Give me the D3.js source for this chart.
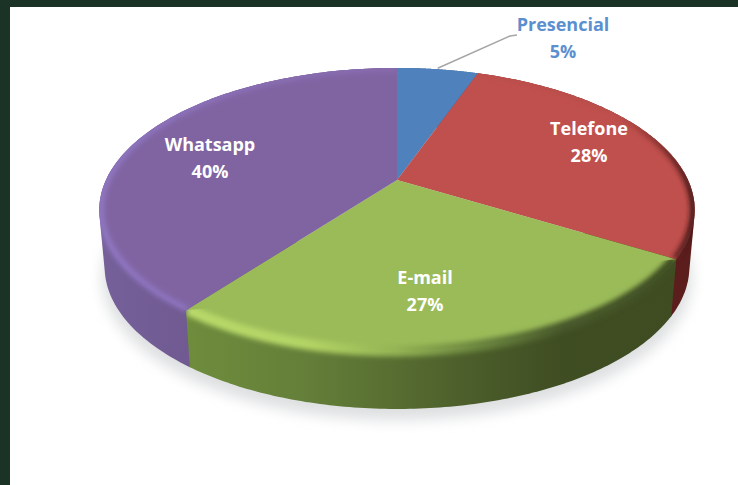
<!DOCTYPE html>
<html><head><meta charset="utf-8">
<script src="https://cdn.jsdelivr.net/npm/d3@7"></script>
<style>html,body{margin:0;padding:0;background:#fff;overflow:hidden}svg{display:block}text{font-family:"Open Sans",sans-serif;font-weight:700;font-size:18px;text-anchor:middle}</style>
</head><body><svg id="c" width="738" height="485"></svg>
<script>
const categories = ["Presencial","Telefone","E-mail","Whatsapp"];
const percents = [5.4,28.3,26.6,39.7];
const topColors = ["#4F81BD","#C0504D","#9BBB59","#8064A2"];
const labelColors = ["#5B8FCF","#fff","#fff","#fff"];
const labelAnchors = [[563,38],[589,142],[425,291],[210,158]];
const sideStops = [
  [[0,"#3b618f"],[1,"#3b618f"]],
  [[0,"#5b1e1d"],[1,"#5b1e1d"]],
  [[0,"#76963f"],[.35,"#647f39"],[.62,"#4c5e2b"],[.78,"#3f4d22"],[1,"#3f4c22"]],
  [[0,"#75609a"],[.3,"#6c5488"],[1,"#6c5488"]]
];
const rimStops = [
  [[0,"#4F81BD"],[1,"#4F81BD"]],
  [[0,"#C0504D"],[.88,"#b94d4a"],[.95,"#7a2b29"],[1,"#3a1413"]],
  [[0,"#bcdd6c"],[.35,"#b3d465"],[.5,"#93b354"],[.63,"#6d8840"],[.78,"#47582a"],[1,"#3f4d22"]],
  [[0,"#9078c4"],[.17,"#8d72bd"],[.3,"#8a6fb5"],[1,"#8064A2"]]
];
const X0=397,Y0=180,A=291,B=135.7,K=0.211,DEPTH=57,SHRINK=0.982,X1=99,X2=694;
const svg=d3.select("#c"), defs=svg.append("defs");
const blur=(id,s)=>defs.append("filter").attr("id",id).attr("x","-20%").attr("y","-20%").attr("width","140%").attr("height","140%").append("feGaussianBlur").attr("stdDeviation",s);
blur("sh",7); blur("rb",2.6);
const grad=(id,stops)=>{const g=defs.append("linearGradient").attr("id",id).attr("gradientUnits","userSpaceOnUse").attr("x1",X1).attr("x2",X2).attr("y1",0).attr("y2",0);
  stops.forEach(s=>g.append("stop").attr("offset",s[0]).attr("stop-color",s[1]));};
const top3=(t,f=1)=>{const u=Math.sin(t)*f,v=-Math.cos(t)*f,w=1-K*v;return [X0+A*u/w,Y0+B*v/w];};
const bot3=t=>{const p=top3(t);return [X0+(p[0]-X0)*SHRINK,p[1]+DEPTH];};
const samples=(a,b)=>d3.range(0,121).map(i=>a+(b-a)*i/120);
const line=d3.line();
const pie=d3.pie().sort(null)(percents);

svg.append("rect").attr("width",738).attr("height",485).attr("fill","#fff");
svg.append("rect").attr("width",738).attr("height",7).attr("fill","#1b3327");
svg.append("rect").attr("width",10).attr("height",485).attr("fill","#1b3327");

const all=samples(0,2*Math.PI);
svg.append("path").attr("d",line(all.map(t=>{const p=bot3(t);return [X0+(p[0]-X0)*1.008,p[1]+11];}))+"Z").attr("fill","#dddfe0").attr("filter","url(#sh)");

const wallLayer=svg.append("g"), tops=svg.append("g"), rims=svg.append("g");
const wallHull=d=>{const s=samples(d.startAngle,d.endAngle);
  return "M"+d3.polygonHull(s.map(t=>top3(t)).concat(s.map(bot3))).join("L")+"Z";};
[0,3,1,2].forEach(i=>{
  grad("side"+i,sideStops[i]); grad("rim"+i,rimStops[i]);
  wallLayer.append("path").attr("d",wallHull(pie[i])).attr("fill",`url(#side${i})`);
});
pie.forEach((d,i)=>{
  const s=samples(d.startAngle,d.endAngle);
  const face=line([[X0,Y0]].concat(s.map(t=>top3(t))))+"Z";
  tops.append("path").attr("d",face).attr("fill",topColors[i]);
  const cp=defs.append("clipPath").attr("id","cl"+i);
  cp.append("path").attr("d",wallHull(d));
  if(i>0) rims.append("g").attr("clip-path",`url(#cl${i})`).append("path")
    .attr("d",line(s.map(t=>top3(t,0.995)))).attr("fill","none")
    .attr("stroke",`url(#rim${i})`).attr("stroke-width",i==2?11:6).attr("filter","url(#rb)");
});

const mid=(pie[0].startAngle+pie[0].endAngle)/2, st=top3(mid);
svg.append("path").attr("d",line([[st[0],st[1]-1],[510,36],[517,35]])).attr("fill","none").attr("stroke","#a6a6a6").attr("stroke-width",1.5);

categories.forEach((c,i)=>{
  const [x,y]=labelAnchors[i];
  const g=svg.append("text").attr("fill",labelColors[i]).attr("x",x).attr("y",y);
  g.append("tspan").attr("x",x).attr("dy",-7).text(c);
  g.append("tspan").attr("x",x).attr("dy",26.5).text(Math.round(percents[i])+"%");
});
</script></body></html>
